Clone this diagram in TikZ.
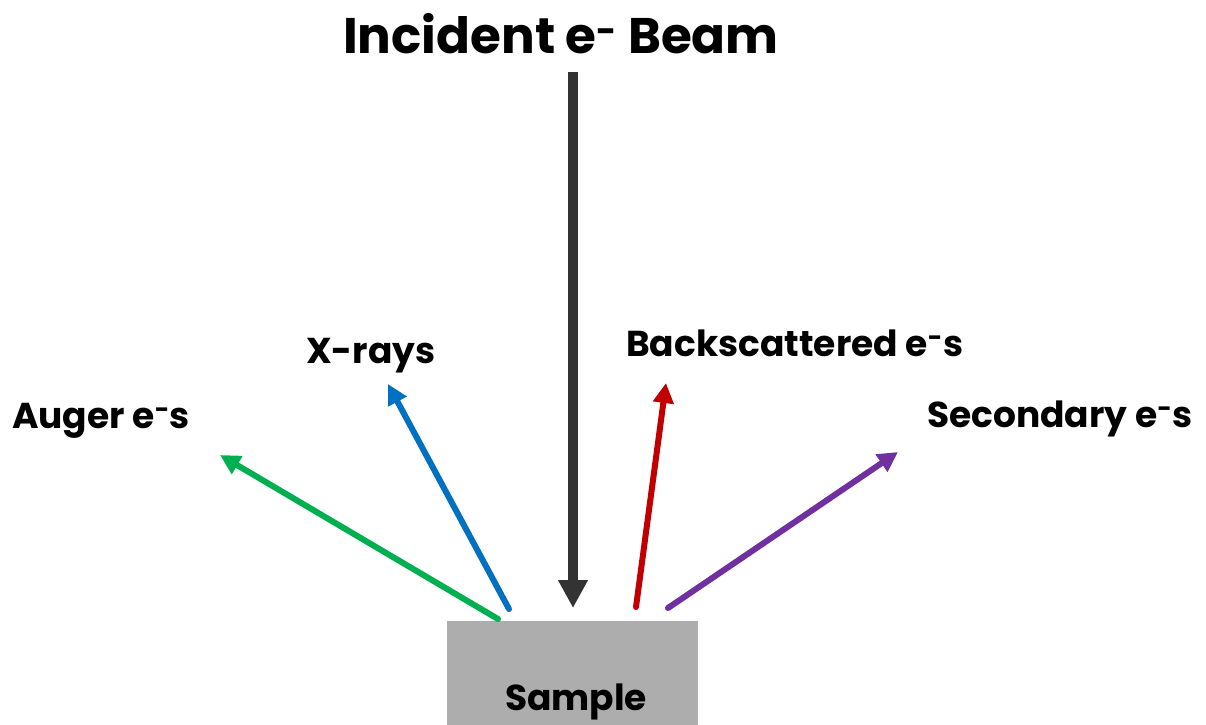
\documentclass[tikz,border=0pt]{standalone}
\usepackage{fontspec}
\setmainfont{Poppins}
\usetikzlibrary{arrows.meta}
\definecolor{beamgray}{HTML}{333333}
\definecolor{samplegray}{HTML}{ADADAD}
\definecolor{augergreen}{HTML}{00B050}
\definecolor{xrayblue}{HTML}{0070C0}
\definecolor{backred}{HTML}{C00000}
\definecolor{secpurple}{HTML}{7030A0}
\newcommand{\eminus}{e\textsuperscript{-}}
\tikzset{
  lblfont/.style={font=\fontsize{36}{42}\selectfont\bfseries, inner sep=0pt},
  lbl/.style={lblfont, anchor=base west},
  emit/.style={line width=6pt, line cap=round, -{Triangle[length=20pt,width=20pt]}},
  beam/.style={line width=10pt, color=beamgray, -{Triangle[length=28pt,width=28pt]}}
}
\begin{document}
\begin{tikzpicture}[x=1pt,y=-1pt]
\useasboundingbox (0,0) rectangle (1206,724);
\node[font=\fontsize{50}{58}\selectfont\bfseries, inner sep=0pt, anchor=base] (title) at (561,53) {Incident \eminus{} Beam};
\node[fill=samplegray, minimum width=251pt, minimum height=110pt, inner sep=0pt, anchor=north west] (sample) at (447,621) {};
\node[lblfont, anchor=base] (samplelbl) at (576,710) {Sample};
\coordinate (beamstart) at (573,72);
\coordinate (beamend) at (573,608);
\draw[beam] (beamstart) -- (beamend);
\node[lbl] (auger) at (12,428) {Auger \eminus s};
\node[lbl] (xrays) at (306,363) {X-rays};
\node[lbl] (back) at (626,356) {Backscattered \eminus s};
\node[lbl] (sec) at (927,427) {Secondary \eminus s};
\coordinate (g0) at (498,619); \coordinate (g1) at (220,455);
\coordinate (b0) at (509,609); \coordinate (b1) at (388,384);
\coordinate (r0) at (636,607); \coordinate (r1) at (666,383);
\coordinate (p0) at (668,608); \coordinate (p1) at (898,452);
\draw[emit, augergreen] (g0) -- (g1);
\draw[emit, xrayblue] (b0) -- (b1);
\draw[emit, backred] (r0) -- (r1);
\draw[emit, secpurple] (p0) -- (p1);
\end{tikzpicture}
\end{document}
